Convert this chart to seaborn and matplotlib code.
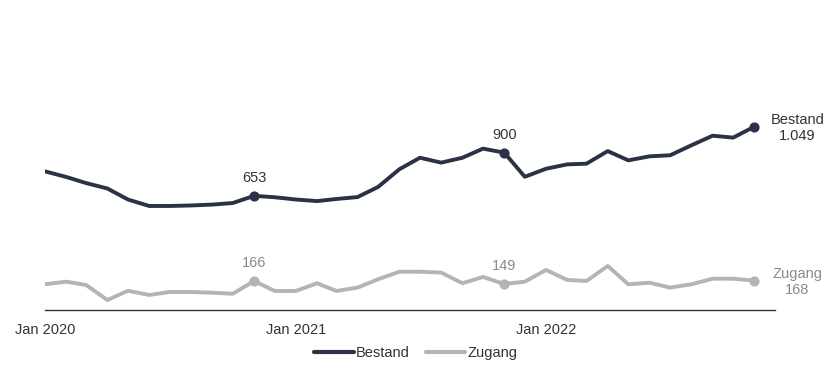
import matplotlib
matplotlib.use("Agg")
import matplotlib.pyplot as plt
import seaborn as sns
import pandas as pd

months = pd.date_range("2020-01-01", periods=35, freq="MS")
bestand = [793, 761, 726, 695, 632, 595, 595, 598, 603, 612, 653, 645,
           632, 623, 635, 646, 704, 805, 871, 843, 871, 923, 900, 762,
           808, 833, 837, 909, 856, 879, 885, 942, 997, 986, 1049]
zugang = [147, 162, 143, 57, 110, 86, 103, 103, 99, 93, 166, 109,
          109, 153, 109, 128, 176, 219, 219, 214, 153, 189, 149, 162,
          229, 172, 166, 252, 147, 156, 128, 147, 179, 179, 168]
series_names = ["Bestand", "Zugang"]
tick_labels = ["Jan 2020", "Jan 2021", "Jan 2022"]
tick_dates = pd.to_datetime(["2020-01-01", "2021-01-01", "2022-01-01"])
label_idx = [10, 22]

colors = {"Bestand": "#2b3246", "Zugang": "#b4b4b4"}
text_colors = {"Bestand": "#333333", "Zugang": "#8a8a8a"}

df = pd.DataFrame({
    "Monat": list(months) * 2,
    "Wert": bestand + zugang,
    "Serie": ["Bestand"] * len(bestand) + ["Zugang"] * len(zugang),
})

sns.set_style("white")
plt.rcParams["font.family"] = ["Liberation Sans", "DejaVu Sans"]

fig = plt.figure(figsize=(8.39, 3.86), dpi=100)
ymax = 1400
top_px = 310 - ymax / 5.72
ax = fig.add_axes([45 / 839, 76 / 386, (775 - 45) / 839, (310 - top_px) / 386])

sns.lineplot(data=df, x="Monat", y="Wert", hue="Serie", palette=colors,
             linewidth=2.8, ax=ax, legend=True)

ax.set_ylim(0, ymax)
ax.set_xlim(pd.Timestamp("2020-01-01"), pd.Timestamp("2022-12-01"))
ax.set_xticks(tick_dates)
ax.set_xticklabels(tick_labels, fontsize=10.5, color="#333333")
ax.set_yticks([])
ax.set_xlabel("")
ax.set_ylabel("")
for s in ["top", "right", "left"]:
    ax.spines[s].set_visible(False)
ax.spines["bottom"].set_color("#333333")
ax.spines["bottom"].set_linewidth(1.0)
ax.tick_params(axis="x", direction="out", length=5, width=1, color="#333333", pad=4)

data = {"Bestand": bestand, "Zugang": zugang}
for name in series_names:
    vals = data[name]
    pts_idx = label_idx + [len(vals) - 1]
    ax.scatter([months[i] for i in pts_idx], [vals[i] for i in pts_idx],
               s=40, color=colors[name], zorder=5)
    for i in label_idx:
        ax.annotate(f"{vals[i]:,}".replace(",", "."), (months[i], vals[i]),
                    xytext=(0, 8), textcoords="offset points", ha="center",
                    va="bottom", fontsize=10.5, color=text_colors[name])
    last = len(vals) - 1
    ax.annotate(f"{name}\n{vals[last]:,}".replace(",", "."), (months[last], vals[last]),
                xytext=(31, -1), textcoords="offset points", ha="center",
                va="center", fontsize=10.5, color=text_colors[name],
                linespacing=1.15)

leg = ax.legend(loc="center", bbox_to_anchor=(416 / 839, (386 - 353) / 386),
                bbox_transform=fig.transFigure, ncol=2, frameon=False,
                fontsize=10.5, handlelength=2.7, columnspacing=1.1, handletextpad=0.15)
for t in leg.get_texts():
    t.set_color("#333333")
for line in leg.get_lines():
    line.set_linewidth(3)

fig.savefig("out.png", dpi=100)
